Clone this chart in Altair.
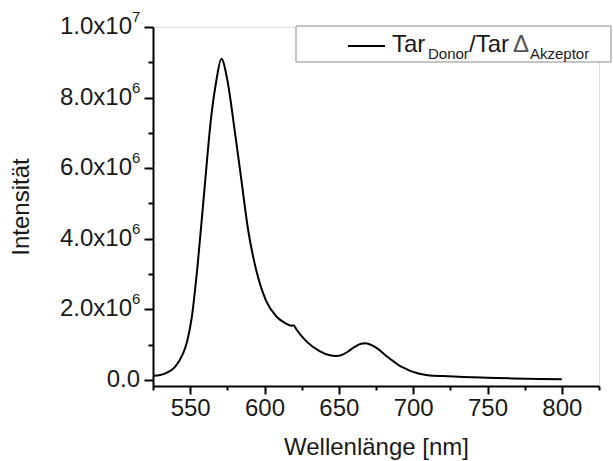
import altair as alt
import pandas as pd

# ---- data ----
wavelength = [525, 530, 535, 540, 545, 548, 551, 555, 559.5, 564, 567.5, 571,
              575, 580, 584.5, 589, 594.5, 601, 608, 614.5, 618, 619.5, 621.5,
              628, 637, 644, 648, 652, 656, 660, 665, 668, 672, 677, 682, 687,
              691, 696, 700, 705, 711, 720, 734, 750, 767, 785, 800]
intensity = [0.12, 0.14, 0.22, 0.38, 0.73, 1.1, 1.75, 3.25, 5.35, 7.4, 8.45, 9.1,
             8.5, 7.05, 5.65, 4.25, 3.1, 2.25, 1.8, 1.6, 1.54, 1.55, 1.43,
             1.1, 0.82, 0.7, 0.68, 0.71, 0.8, 0.92, 1.03, 1.04, 0.99, 0.86, 0.68, 0.52,
             0.4, 0.3, 0.23, 0.17, 0.13, 0.11, 0.085, 0.065, 0.045, 0.03, 0.02]
intensity = [v * 1e6 for v in intensity]

x_major = [550, 600, 650, 700, 750, 800]
x_minor = [525, 575, 625, 675, 725, 775, 825]
y_major = [0, 2e6, 4e6, 6e6, 8e6, 1e7]
y_minor = [1e6, 3e6, 5e6, 7e6, 9e6]
y_label_base = ["0.0", "2.0x10", "4.0x10", "6.0x10", "8.0x10", "1.0x10"]
y_label_sup = ["", "6", "6", "6", "6", "7"]

x_title = "Wellenlänge [nm]"
y_title = "Intensität"
legend_parts = ["Tar", "Donor", "/Tar", "Δ", "Akzeptor"]

df = pd.DataFrame({"wl": wavelength, "I": intensity})
ylab = pd.DataFrame({"v": y_major, "base": y_label_base, "sup": y_label_sup})
ylab_exp = ylab[ylab["sup"] != ""]
ylab_zero = ylab[ylab["sup"] == ""]

FONT = "Liberation Sans"
W, H = 446, 359
FS = 24
TXT = "#1a1a1a"

xscale = alt.Scale(domain=[525, 825], nice=False, zero=False)
yscale = alt.Scale(domain=[-1.7e5, 1e7], nice=False, zero=False)

common_axis = dict(domainColor="black", domainWidth=2, tickColor="black", tickWidth=2,
                   grid=False, labelFont=FONT, titleFont=FONT, labelColor=TXT,
                   titleColor=TXT, titleFontWeight="normal")

x_axis_major = alt.Axis(values=x_major, tickSize=8, labelFontSize=FS, labelPadding=2,
                        title=x_title, titleFontSize=FS, titleY=68, titleBaseline="alphabetic",
                        labelOverlap=False, orient="bottom", **common_axis)
y_axis_major = alt.Axis(values=y_major, tickSize=9, labels=False,
                        title=y_title, titleFontSize=FS,
                        titleX=-132, titleY=H / 2, titleBaseline="middle",
                        orient="left", **common_axis)
x_axis_minor = alt.Axis(values=x_minor, tickSize=4, labels=False, title=None,
                        orient="bottom", domain=False, ticks=True, grid=False,
                        tickColor="black", tickWidth=2)
y_axis_minor = alt.Axis(values=y_minor, tickSize=5, labels=False, title=None,
                        orient="left", domain=False, ticks=True, grid=False,
                        tickColor="black", tickWidth=2)

line = alt.Chart(df).mark_line(color="black", strokeWidth=2, interpolate="monotone").encode(
    x=alt.X("wl:Q", scale=xscale, axis=x_axis_major),
    y=alt.Y("I:Q", scale=yscale, axis=y_axis_major),
)
minor = alt.Chart(df).mark_line(strokeOpacity=0).encode(
    x=alt.X("wl:Q", scale=xscale, axis=x_axis_minor),
    y=alt.Y("I:Q", scale=yscale, axis=y_axis_minor),
)

# y tick labels with raised exponents
ybase = alt.Chart(ylab_exp).mark_text(font=FONT, fontSize=FS, align="right",
                                      baseline="middle", color=TXT).encode(
    x=alt.value(-21), y=alt.Y("v:Q", scale=yscale, axis=None), text="base:N")
ysup = alt.Chart(ylab_exp).mark_text(font=FONT, fontSize=15, align="left",
                                     baseline="middle", color=TXT, dy=-10).encode(
    x=alt.value(-21), y=alt.Y("v:Q", scale=yscale, axis=None), text="sup:N")
yzero = alt.Chart(ylab_zero).mark_text(font=FONT, fontSize=FS, align="right",
                                       baseline="middle", color=TXT).encode(
    x=alt.value(-13), y=alt.Y("v:Q", scale=yscale, axis=None), text="base:N")

one = pd.DataFrame({"k": [0]})
box = alt.Chart(one).mark_rect(fill="white", stroke="#8a8a8a", strokeWidth=1).encode(
    x=alt.value(143), x2=alt.value(458), y=alt.value(-1), y2=alt.value(35))
sample = alt.Chart(one).mark_rule(color="black", strokeWidth=2).encode(
    x=alt.value(195), x2=alt.value(232), y=alt.value(19))

def txt(s, x, y, size, color=TXT):
    return alt.Chart(one).mark_text(text=s, font=FONT, fontSize=size, align="left",
                                    baseline="alphabetic", color=color).encode(
        x=alt.value(x), y=alt.value(y))

legend = [
    txt(legend_parts[0], 239, 25, FS),
    txt(legend_parts[1], 275, 32, 15),
    txt(legend_parts[2], 316, 25, FS),
    txt(legend_parts[3], 360, 25, FS, "#555555"),
    txt(legend_parts[4], 377, 32, 15),
]

chart = alt.layer(line, minor, ybase, ysup, yzero, box, sample, *legend).resolve_axis(
    x="independent", y="independent"
).properties(
    width=W, height=H,
    autosize=alt.AutoSizeParams(type="none"),
    padding={"left": 153, "top": 27, "right": 14, "bottom": 75},
).configure_view(stroke=None).configure(background="white")

chart.save("out.html", embed_options={"renderer": "svg", "actions": False})
